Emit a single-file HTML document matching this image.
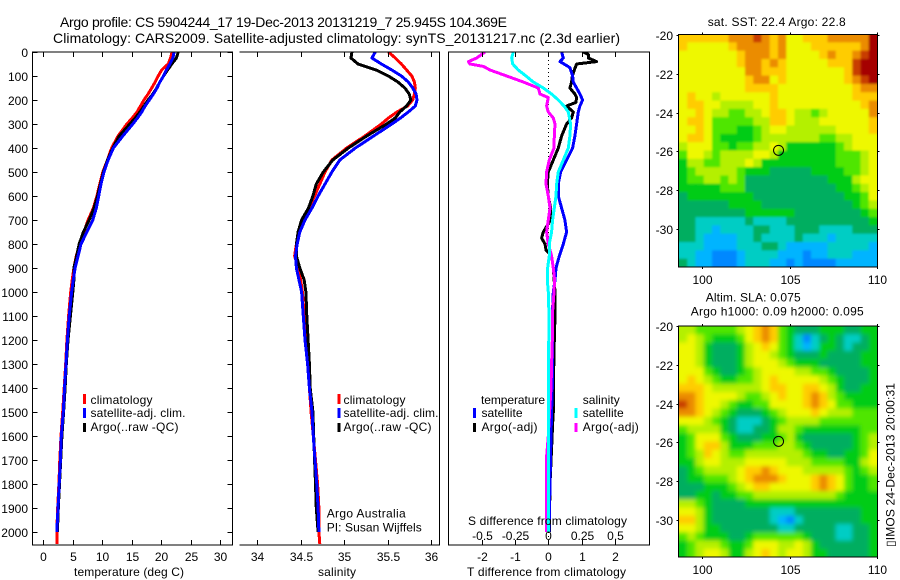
<!DOCTYPE html>
<html lang="en">
<head>
<meta charset="utf-8">
<title>Argo profile CS 5904244_17</title>
<style>
html,body{margin:0;padding:0;background:#fff;width:900px;height:580px;overflow:hidden}
svg{display:block;font-family:"Liberation Sans",Arial,sans-serif;font-size:12px;fill:#000}
text{fill:#000}
.frame{stroke:#000;stroke-width:1;fill:none;shape-rendering:crispEdges}
.prof{fill:none;stroke-width:3;stroke-linejoin:round;shape-rendering:crispEdges}
</style>
</head>
<body>
<svg id="chart" width="900" height="580" viewBox="0 0 900 580" xmlns="http://www.w3.org/2000/svg">
<defs>
<clipPath id="clip1"><rect x="32" y="52" width="200" height="493"/></clipPath>
<clipPath id="clip2"><rect x="240" y="52" width="199" height="493"/></clipPath>
<clipPath id="clip3"><rect x="449" y="52" width="200" height="493"/></clipPath>
<clipPath id="clipMapA"><rect x="679" y="34" width="198" height="233"/></clipPath>
<clipPath id="clipMapB"><rect x="679" y="326" width="198" height="231"/></clipPath>
<filter id="smoothA" x="-5%" y="-5%" width="110%" height="110%"><feGaussianBlur stdDeviation="1"/></filter>
<filter id="smoothB" x="-5%" y="-5%" width="110%" height="110%"><feGaussianBlur stdDeviation="2"/></filter>
</defs>

<text x="60" y="27" font-size="14" textLength="447" lengthAdjust="spacing">Argo profile: CS 5904244_17 19-Dec-2013 20131219_7 25.945S 104.369E</text>
<text x="53" y="43" font-size="14" textLength="567" lengthAdjust="spacing">Climatology: CARS2009. Satellite-adjusted climatology: synTS_20131217.nc (2.3d earlier)</text>

<g id="marks"></g>

<!-- axes frames -->
<rect class="frame" x="32.5" y="52" width="200" height="493"/>
<path class="frame" d="M239.5 52H439.5V545H239.5"/>
<rect class="frame" x="448.5" y="52" width="201" height="493"/>

<g id="ticks"></g>

<!-- axis titles -->
<text x="74" y="576" textLength="110" lengthAdjust="spacing">temperature (deg C)</text>
<text x="318" y="576" textLength="38" lengthAdjust="spacing">salinity</text>
<text x="467" y="576" textLength="159" lengthAdjust="spacing">T difference from climatology</text>
<text x="468" y="525" textLength="159" lengthAdjust="spacing">S difference from climatology</text>

<!-- temperature legend -->
<g>
<rect x="83" y="394" width="3" height="10" fill="#f00"/>
<rect x="83" y="408" width="3" height="10" fill="#00f"/>
<rect x="83" y="423" width="3" height="9" fill="#000"/>
<text x="90.5" y="404" textLength="62" lengthAdjust="spacing">climatology</text>
<text x="90.5" y="417" textLength="95" lengthAdjust="spacing">satellite-adj. clim.</text>
<text x="90.5" y="431" textLength="88" lengthAdjust="spacing">Argo(..raw -QC)</text>
</g>

<!-- salinity legend -->
<g>
<rect x="337.5" y="394" width="3" height="10" fill="#f00"/>
<rect x="337.5" y="408" width="3" height="10" fill="#00f"/>
<rect x="337.5" y="423" width="3" height="9" fill="#000"/>
<text x="343.5" y="404" textLength="62" lengthAdjust="spacing">climatology</text>
<text x="343.5" y="417" textLength="95" lengthAdjust="spacing">satellite-adj. clim.</text>
<text x="343.5" y="431" textLength="88" lengthAdjust="spacing">Argo(..raw -QC)</text>
</g>
<text x="326.7" y="517.5" textLength="79" lengthAdjust="spacing">Argo Australia</text>
<text x="326.7" y="531.5" textLength="95" lengthAdjust="spacing">PI: Susan Wijffels</text>

<!-- difference legend -->
<g>
<text x="481" y="404" textLength="64" lengthAdjust="spacing">temperature</text>
<rect x="473" y="408" width="3" height="10" fill="#00f"/>
<text x="481.5" y="417" textLength="41" lengthAdjust="spacing">satellite</text>
<rect x="473" y="423" width="3" height="9" fill="#000"/>
<text x="481.5" y="431" textLength="56" lengthAdjust="spacing">Argo(-adj)</text>
<text x="582.7" y="404" textLength="37" lengthAdjust="spacing">salinity</text>
<rect x="574.5" y="408" width="3" height="10" fill="#0ff"/>
<text x="582.7" y="417" textLength="41" lengthAdjust="spacing">satellite</text>
<rect x="574.5" y="423" width="3" height="9" fill="#f0f"/>
<text x="582.7" y="431" textLength="56" lengthAdjust="spacing">Argo(-adj)</text>
</g>

<!-- maps -->
<text x="707.7" y="26" textLength="138" lengthAdjust="spacing">sat. SST: 22.4 Argo: 22.8</text>
<text x="705.7" y="301.5" textLength="95" lengthAdjust="spacing">Altim. SLA: 0.075</text>
<text x="690.7" y="315.5" textLength="173" lengthAdjust="spacing">Argo h1000: 0.09 h2000: 0.095</text>
<text transform="translate(894.5 547) rotate(-90)" textLength="164" lengthAdjust="spacing">&#9647;IMOS 24-Dec-2013 20:00:31</text>

<script>
// ---------- profile data (depth in m) ----------
const depthsA = [0,25,50,75,100,125,150,175,200,225,250,275,300,350,400,450,500,550,600,650,700,750,800,850,900,950,1000,1100,1200,1300,1400,1500,1600,1700,1800,1900,2000];
const tempClim = [21.85,21.6,21.2,20.1,19.5,19,18.4,17.8,17.1,16.5,15.9,15.1,14.2,12.7,11.6,10.9,10.1,9.6,9.1,8.5,7.6,6.9,6.2,5.6,5.2,4.9,4.65,4.3,4.0,3.8,3.55,3.3,3.0,2.8,2.65,2.45,2.3];
const tempSat = [22.2,22,21.5,20.9,20.4,19.8,19.3,18.7,18,17.3,16.7,16,15.2,13.5,11.9,11,10.3,9.8,9.4,9,8.4,7.4,6.4,5.9,5.4,5.1,4.8,4.4,4.1,3.85,3.6,3.4,3.06,2.9,2.7,2.5,2.3];
const tempArgo = [22.9,22.6,21.8,21.1,20.4,19.8,19.25,18.6,17.8,17.1,16.4,15.6,14.7,12.9,11.8,10.9,10.2,9.7,9.2,8.6,7.8,6.8,6.1,5.66,5.2,5.2,5,4.6,4.2,3.9,3.7,3.45,3.15,2.95,2.75,2.55,2.4];
const tempClimEnd = [[2000,2.3],[2050,2.3]];

const salClim = [35.51,35.59,35.66,35.72,35.78,35.81,35.82,35.81,35.79,35.73,35.61,35.51,35.43,35.24,35.03,34.86,34.78,34.72,34.66,34.59,34.52,34.47,34.45,34.43,34.47,34.5,34.52,34.54,34.56,34.58,34.6,34.62,34.645,34.67,34.695,34.71,34.71];
const salSat = [35.36,35.32,35.43,35.55,35.66,35.74,35.79,35.83,35.84,35.82,35.74,35.65,35.55,35.34,35.13,34.95,34.86,34.78,34.7,34.63,34.55,34.49,34.46,34.44,34.45,34.48,34.51,34.53,34.55,34.58,34.6,34.63,34.645,34.665,34.685,34.7,34.71];
const salArgo = [35.09,35.08,35.16,35.37,35.51,35.62,35.7,35.75,35.77,35.72,35.64,35.59,35.49,35.26,35.05,34.87,34.76,34.68,34.64,34.59,34.51,34.47,34.45,34.45,34.49,34.54,34.56,34.57,34.585,34.6,34.61,34.64,34.65,34.66,34.67,34.68,34.7];
const salClimEnd = [[2000,34.71],[2050,34.72]];

const depthsT = [0,10,25,40,50,75,100,125,150,175,190,210,225,250,275,300,350,400,450,500,550,600,650,700,750,775,800,825,850,900,1000,1100,1200,1400,1500,1550,1650,1800,2000];
const diffTArgo = [1.05,1.2,1.2,1.45,0.85,0.78,0.72,0.7,0.65,0.8,0.85,0.83,0.55,0.75,0.7,0.55,0.4,0.3,0.15,0,-0.03,0,0.07,0.07,-0.15,-0.2,-0.1,-0.07,0.1,0.15,0.2,0.2,0.18,0.15,0.15,0.13,0.1,0.05,0.03];
const depthsD = [0,25,40,65,100,125,150,175,200,225,250,300,350,400,450,500,550,600,650,700,750,800,850,900,950,1000,1100,1200,1400,1500,1600,1800,2000];
const diffTSat = [0.4,0.45,0.35,0.65,0.73,0.75,0.85,0.95,1.03,0.95,0.9,0.85,0.8,0.73,0.55,0.37,0.3,0.3,0.4,0.5,0.55,0.45,0.33,0.23,0.2,0.15,0.12,0.12,0.12,0.1,0.08,0.05,0.02];

const depthsS = [0,25,50,75,100,125,150,175,200,225,250,300,350,400,450,500,550,600,650,700,750,800,850,900,950,1000,1100,1400,2000];
const diffSSat = [-0.2625,-0.275,-0.2675,-0.225,-0.1675,-0.1125,-0.0375,0.025,0.075,0.1175,0.15,0.1675,0.1625,0.15,0.1125,0.075,0.0625,0.0575,0.045,0.0325,0.025,0.0075,0.0075,-0.005,-0.0075,0,0.005,0,0];
const depthsM = [0,25,40,50,60,75,100,125,150,175,190,225,250,275,300,350,400,450,500,550,600,650,700,750,800,850,900,950,1000,1100,1200,1300,1400,1500,1600,1700,2000];
const diffSArgo = [-0.475,-0.5375,-0.6,-0.5875,-0.4875,-0.4375,-0.3125,-0.1875,-0.075,-0.0625,0,-0.0125,0,0.0375,0.05,0.045,0.0425,0.0075,-0.0125,-0.0175,0,0.0125,0,-0.0125,0,0.025,0.0375,0.0475,0.0425,0.03,0.03,0.025,0.02,0.01,0,-0.015,-0.015];

// ---------- tick labels ----------
const depthTicks = [0,100,200,300,400,500,600,700,800,900,1000,1100,1200,1300,1400,1500,1600,1700,1800,1900,2000];
const tempTicks = [0,5,10,15,20,25,30];
const salTicks = [34,34.5,35,35.5,36];
const diffTTicks = [-2,-1,0,1,2];
const diffSTicks = [-0.5,-0.25,0,0.25,0.5];
const lonTicks = [100,105,110];
const latTicks = [-20,-22,-24,-26,-28,-30];
const argoLon = [104.369];
const argoLat = [-25.945];

// ---------- map data: colour level per cell, north to south ----------
const sstLevels = [
[8,8,8,8,8,8,9,9,9,10,9,8,9,7,7,8,8,8,9,9,9,9,9,11],
[8,7,7,7,7,7,8,9,9,9,9,8,9,7,7,7,8,8,8,8,8,8,9,11],
[7,7,7,7,7,7,7,8,9,9,9,8,9,7,7,7,7,8,9,8,8,9,10,11],
[7,7,7,7,7,7,7,8,9,9,8,9,8,7,7,7,7,7,8,8,8,10,11,11],
[7,7,7,7,7,7,7,7,9,9,8,8,8,7,7,7,7,7,7,7,8,10,11,11],
[7,7,7,7,7,7,7,7,8,9,9,7,8,7,7,7,7,7,7,7,8,9,10,11],
[7,7,7,7,7,7,7,7,8,8,8,8,7,7,7,7,7,7,7,7,7,8,9,9],
[7,8,7,7,6,7,7,7,7,7,7,8,7,7,7,7,7,7,7,7,7,8,8,8],
[7,8,8,7,7,6,6,6,6,7,7,8,7,7,7,7,7,7,7,7,7,7,8,9],
[7,7,8,7,6,6,5,5,6,6,7,8,8,7,6,6,5,6,7,7,7,7,7,9],
[7,8,8,7,5,5,5,5,5,6,6,8,8,7,6,6,6,7,7,7,7,7,7,8],
[7,7,8,7,5,5,5,4,4,5,6,7,7,6,6,6,6,6,6,7,7,7,7,8],
[7,8,8,7,5,4,4,4,4,5,6,6,6,6,6,6,6,5,5,6,6,7,7,7],
[6,7,7,7,5,5,4,5,5,6,6,7,6,4,4,4,4,4,4,5,6,7,7,7],
[5,7,7,6,5,6,6,6,6,7,7,6,4,4,4,4,4,4,4,5,5,5,6,7],
[4,6,6,5,5,6,6,6,7,6,4,4,4,4,4,4,4,4,4,5,5,5,6,7],
[4,5,6,6,6,6,6,5,4,4,4,3,3,3,3,3,4,4,4,4,5,5,6,7],
[4,5,5,6,6,5,6,5,3,3,3,3,3,3,3,3,3,3,4,4,4,6,7,7],
[4,4,4,4,4,5,5,5,3,3,3,3,3,3,3,3,3,3,3,4,4,5,6,7],
[3,4,4,4,4,4,4,4,4,3,3,3,3,3,3,3,3,3,3,3,4,4,5,7],
[3,3,3,3,3,3,4,4,4,4,3,3,3,3,3,3,3,3,3,3,3,4,5,6],
[3,3,3,3,3,3,3,3,4,4,4,4,4,4,3,3,3,3,3,3,3,3,4,5],
[3,3,2,2,2,2,2,2,3,2,2,2,2,3,3,3,3,3,3,3,3,3,3,4],
[3,3,2,2,1,2,2,2,2,3,3,2,2,2,3,3,3,2,2,2,2,3,3,3],
[3,3,2,1,1,1,1,2,2,3,2,2,2,2,3,2,2,2,1,2,2,2,2,2],
[2,2,2,1,1,1,1,2,2,2,3,3,2,1,1,1,1,1,2,2,2,2,2,1],
[2,2,1,1,0,0,0,1,2,2,2,2,1,1,1,0,1,1,2,2,2,1,1,1],
[3,2,1,1,0,0,0,1,2,2,2,1,1,0,1,0,0,0,0,1,1,1,1,1]
];
const slaLevels = [
[6,6,5,5,5,5,5,6,7,8,9,8,5,4,3,3,3,4,4,4,3,3,4,4],
[6,7,6,5,4,4,4,5,7,8,9,8,5,4,2,0,2,3,4,3,2,2,3,4],
[7,7,6,4,3,3,3,4,6,7,8,7,5,4,2,1,2,4,4,3,2,3,3,4],
[7,7,6,4,3,3,3,4,6,7,7,6,5,4,3,3,3,4,3,3,3,3,4,4],
[7,7,6,4,3,3,3,4,6,7,7,7,6,5,4,4,4,3,3,3,3,3,4,4],
[7,7,7,5,4,3,3,4,5,6,7,7,7,7,6,6,5,5,4,3,3,3,3,4],
[7,8,7,6,5,4,4,5,5,6,7,8,7,7,7,7,7,6,5,4,3,3,3,4],
[8,8,8,7,6,6,6,6,6,6,7,8,8,7,7,8,8,7,6,4,3,3,4,4],
[9,9,8,7,7,7,7,6,5,5,6,7,8,7,7,8,9,8,6,5,4,4,4,4],
[10,9,8,7,7,6,5,4,4,5,5,7,7,7,7,8,9,8,7,5,5,4,4,4],
[9,9,8,7,6,5,4,3,3,3,4,5,6,7,7,7,8,7,6,6,6,5,5,5],
[7,7,7,6,5,4,3,2,2,2,3,4,5,6,6,6,6,5,5,5,5,5,5,5],
[5,6,6,6,6,4,3,2,2,3,3,4,6,6,5,4,4,4,4,4,4,4,5,5],
[4,5,7,7,7,5,4,3,3,3,4,4,5,6,4,3,3,3,3,3,3,4,5,6],
[4,5,7,8,8,6,4,4,4,5,5,5,6,6,5,4,3,3,3,3,3,4,5,6],
[4,5,6,8,7,6,5,5,6,6,6,6,6,6,6,5,4,4,3,3,4,4,5,7],
[4,4,6,7,7,6,6,6,7,7,7,7,7,6,6,6,5,5,5,5,4,4,6,7],
[3,4,5,6,6,6,6,7,8,8,9,8,7,7,7,6,6,6,6,6,5,4,5,6],
[3,4,4,5,5,5,6,7,8,9,9,9,8,7,7,7,8,9,8,7,5,4,4,5],
[3,3,3,4,4,4,5,6,7,8,8,7,7,7,7,7,8,9,8,7,5,4,4,5],
[3,3,4,4,3,4,4,5,5,6,6,6,6,6,6,6,6,6,6,5,4,4,4,4],
[6,6,5,4,3,3,3,3,4,4,4,4,4,4,4,4,4,4,4,4,4,4,4,4],
[7,7,6,4,3,3,3,3,3,3,3,2,2,2,3,3,3,3,3,3,3,3,4,4],
[8,8,6,4,3,3,3,3,3,3,3,2,1,0,2,3,3,3,3,3,3,3,4,4],
[7,7,6,4,4,3,3,3,3,3,3,3,2,2,3,3,3,3,3,2,2,3,3,4],
[5,6,5,4,4,4,3,3,4,5,5,5,5,5,5,4,3,3,3,2,2,3,3,4],
[4,5,6,6,6,5,4,4,5,7,7,7,6,6,7,6,4,3,3,3,3,3,3,4],
[4,5,6,7,7,6,4,4,6,7,8,7,6,7,7,6,4,4,3,3,3,3,3,4]
];
const levelColours = ['#0088ff','#00b4ff','#00cdc4','#00ae60','#00cc14','#50e600','#b4f000','#eef800','#ffcc00','#eb8c00','#c83c00','#a50000'];

// ---------- scales ----------
function yDepth(d){ return 52 + d * 0.24; }
function xTemp(t){ return 43.3 + t * 5.89; }
function xSal(s){ return 257.3 + (s - 34) * 86.8; }
function xDiffT(t){ return 548.3 + t * 33.3; }
function xDiffS(s){ return 548.3 + s * 133.2; }
function xLon(l){ return 702.3 + (l - 100) * 17.45; }
function yLatA(l){ return 35 + (-20 - l) * 19.4; }
function yLatB(l){ return 326 + (-20 - l) * 19.4; }

const NS = 'http://www.w3.org/2000/svg';
const marks = document.getElementById('marks');
const ticks = document.getElementById('ticks');

function profile(parent, name, depths, vals, xf, colour, clip, width){
  const el = document.createElementNS(NS, 'polyline');
  
  
  el.setAttribute('class', 'prof');
  el.setAttribute('stroke', colour);
  el.setAttribute('clip-path', 'url(#' + clip + ')');
  if (width) el.setAttribute('stroke-width', width);
  el.setAttribute('points', depths.map((d, i) => xf(vals[i]).toFixed(1) + ',' + yDepth(d).toFixed(1)).join(' '));
  parent.appendChild(el);
  return el;
}
function tick(x1, y1, x2, y2){
  const el = document.createElementNS(NS, 'line');
  
  
  el.setAttribute('x1', x1); el.setAttribute('y1', y1);
  el.setAttribute('x2', x2); el.setAttribute('y2', y2);
  el.setAttribute('stroke', '#000');
  el.setAttribute('shape-rendering', 'crispEdges');
  ticks.appendChild(el);
}
function label(str, x, y, anchor){
  const el = document.createElementNS(NS, 'text');
  
  
  el.setAttribute('x', x); el.setAttribute('y', y);
  el.setAttribute('text-anchor', anchor);
  el.textContent = str;
  ticks.appendChild(el);
}

// ---------- profiles ----------
const tClimEndD = tempClimEnd.map(p => p[0]);
const tClimEndV = tempClimEnd.map(p => p[1]);
const sClimEndD = salClimEnd.map(p => p[0]);
const sClimEndV = salClimEnd.map(p => p[1]);

profile(marks, 'temperature-climatology-line', depthsA, tempClim, xTemp, '#f00', 'clip1');
profile(marks, 'temperature-climatology-line-end', tClimEndD, tClimEndV, xTemp, '#f00', 'clip1');
profile(marks, 'temperature-argo-line', depthsA, tempArgo, xTemp, '#000', 'clip1');
profile(marks, 'temperature-satellite-line', depthsA, tempSat, xTemp, '#00f', 'clip1');

profile(marks, 'salinity-climatology-line', depthsA, salClim, xSal, '#f00', 'clip2');
profile(marks, 'salinity-climatology-line-end', sClimEndD, sClimEndV, xSal, '#f00', 'clip2');
profile(marks, 'salinity-argo-line', depthsA, salArgo, xSal, '#000', 'clip2');
profile(marks, 'salinity-satellite-line', depthsA, salSat, xSal, '#00f', 'clip2');

const zero = document.createElementNS(NS, 'line');


zero.setAttribute('x1', xDiffT(0)); zero.setAttribute('x2', xDiffT(0));
zero.setAttribute('y1', yDepth(0)); zero.setAttribute('y2', yDepth(2050));
zero.setAttribute('stroke', '#000');
zero.setAttribute('stroke-dasharray', '1 3');
zero.setAttribute('shape-rendering', 'crispEdges');
marks.appendChild(zero);

profile(marks, 't-difference-argo-line', depthsT, diffTArgo, xDiffT, '#000', 'clip3');
profile(marks, 't-difference-satellite-line', depthsD, diffTSat, xDiffT, '#00f', 'clip3');
profile(marks, 's-difference-argo-line', depthsM, diffSArgo, xDiffS, '#f0f', 'clip3');
profile(marks, 's-difference-satellite-line', depthsS, diffSSat, xDiffS, '#0ff', 'clip3');

// ---------- ticks ----------
depthTicks.forEach(d => {
  const y = Math.round(yDepth(d)) + 0.5;
  tick(32.5, y, 37.5, y);
  tick(227.5, y, 232.5, y);
  label(String(d), 28, y + 4.5, 'end');
});
tempTicks.forEach(t => {
  const x = Math.round(xTemp(t)) + 0.5;
  tick(x, 52, x, 57);
  tick(x, 540, x, 545);
  label(String(t), x, 561, 'middle');
});
salTicks.forEach(s => {
  const x = Math.round(xSal(s)) + 0.5;
  tick(x, 52, x, 57);
  tick(x, 540, x, 545);
  label(String(s), x, 561, 'middle');
});
diffTTicks.forEach(t => {
  const x = Math.round(xDiffT(t)) + 0.5;
  tick(x, 540, x, 545);
  label(String(t), x, 561, 'middle');
});
diffSTicks.forEach(s => {
  const x = Math.round(xDiffS(s)) + 0.5;
  tick(x, 52, x, 57);
  label(String(s), x, 540, 'middle');
});

// ---------- maps ----------
function heatmap(name, rows, top, bottom, clip, smooth){
  const g = document.createElementNS(NS, 'g');
  
  
  g.setAttribute('clip-path', 'url(#' + clip + ')');
  const inner = document.createElementNS(NS, 'g');
  inner.setAttribute('filter', 'url(#' + smooth + ')');
  const x0 = 679, x1 = 877;
  const cw = (x1 - x0) / rows[0].length;
  const ch = (bottom - top) / rows.length;
  // bleed underlay so the blur does not fade to white at the frame
  const under = document.createElementNS(NS, 'rect');
  
  
  under.setAttribute('x', x0 - 6); under.setAttribute('y', top - 6);
  under.setAttribute('width', x1 - x0 + 12); under.setAttribute('height', bottom - top + 12);
  under.setAttribute('fill', levelColours[rows[14][12]]);
  inner.appendChild(under);
  rows.forEach((row, r) => row.forEach((v, c) => {
    const cell = document.createElementNS(NS, 'rect');
    
    
    // outer cells bleed past the frame so the edge keeps its own colour after blurring
    const xa = c === 0 ? x0 - 6 : x0 + c * cw;
    const xb = c === row.length - 1 ? x1 + 6 : x0 + (c + 1) * cw;
    const ya = r === 0 ? top - 6 : top + r * ch;
    const yb = r === rows.length - 1 ? bottom + 6 : top + (r + 1) * ch;
    cell.setAttribute('x', xa.toFixed(2));
    cell.setAttribute('y', ya.toFixed(2));
    cell.setAttribute('width', (xb - xa + 0.5).toFixed(2));
    cell.setAttribute('height', (yb - ya + 0.5).toFixed(2));
    cell.setAttribute('fill', levelColours[v]);
    inner.appendChild(cell);
  }));
  g.appendChild(inner);
  document.getElementById('chart').appendChild(g);
}
heatmap('sst-map', sstLevels, 34, 267, 'clipMapA', 'smoothA');
heatmap('sla-map', slaLevels, 326, 557, 'clipMapB', 'smoothB');

function mapFrame(name, top, bottom, yLat){
  const svg = document.getElementById('chart');
  const f = document.createElementNS(NS, 'rect');
  
  
  f.setAttribute('class', 'frame');
  f.setAttribute('x', 678.5); f.setAttribute('y', top);
  f.setAttribute('width', 199); f.setAttribute('height', bottom - top);
  svg.appendChild(f);
  latTicks.forEach(l => {
    const y = Math.round(yLat(l)) + 0.5;
    tick(676.5, y, 678.5, y);
    tick(877.5, y, 879.5, y);
    label(String(l), 673, y + 4.5, 'end');
  });
  lonTicks.forEach(l => {
    const x = Math.round(xLon(l)) + 0.5;
    tick(x, top - 2, x, top);
    tick(x, bottom, x, bottom + 2);
    label(String(l), x, bottom + 17, 'middle');
  });
  svg.appendChild(ticks);
  const c = document.createElementNS(NS, 'circle');
  
  
  c.setAttribute('cx', xLon(argoLon[0]));
  c.setAttribute('cy', yLat(argoLat[0]));
  c.setAttribute('r', 5);
  c.setAttribute('fill', 'none');
  c.setAttribute('stroke', '#000');
  svg.appendChild(c);
}
mapFrame('sst-map', 34.5, 267, yLatA);
mapFrame('sla-map', 326, 557, yLatB);
</script>
</svg>
</body>
</html>
